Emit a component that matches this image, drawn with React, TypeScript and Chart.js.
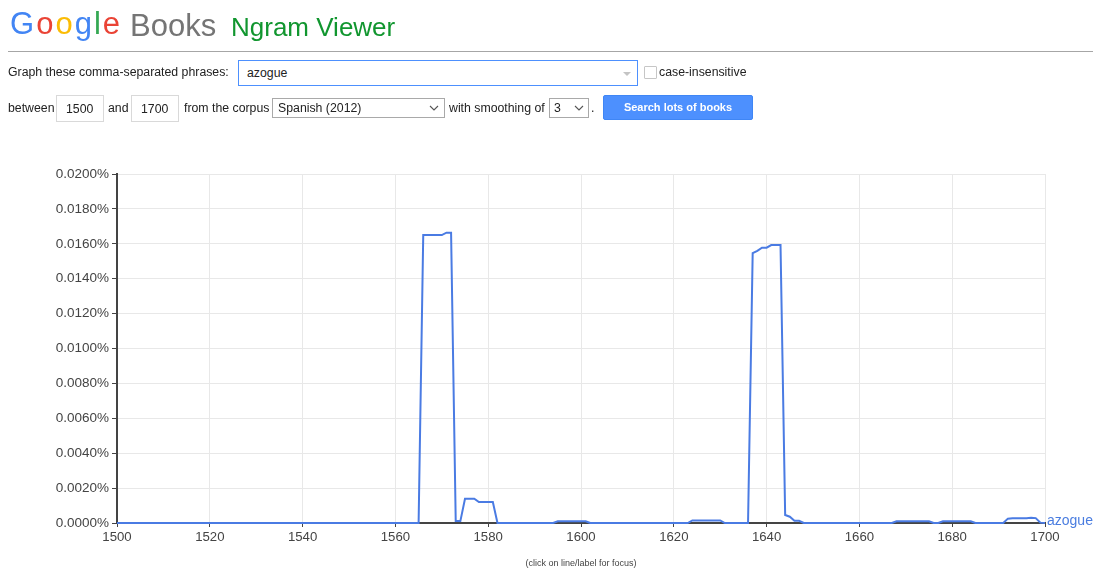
import React, { useEffect, useRef } from "react";
import { Chart, registerables } from "chart.js";

Chart.register(...registerables);

const FONT = "'Liberation Sans', Arial, sans-serif";

const firstYear = 1500;
const lastYear = 1700;
const phrase = "azogue";

// Yearly share of "azogue" in the corpus, in percent (1500 … 1700)
const azogueValues: number[] = [
  // 1500-1509
  0, 0, 0, 0, 0, 0, 0, 0, 0, 0,
  // 1510-1519
  0, 0, 0, 0, 0, 0, 0, 0, 0, 0,
  // 1520-1529
  0, 0, 0, 0, 0, 0, 0, 0, 0, 0,
  // 1530-1539
  0, 0, 0, 0, 0, 0, 0, 0, 0, 0,
  // 1540-1549
  0, 0, 0, 0, 0, 0, 0, 0, 0, 0,
  // 1550-1559
  0, 0, 0, 0, 0, 0, 0, 0, 0, 0,
  // 1560-1569
  0, 0, 0, 0, 0, 0, 0.0165, 0.0165, 0.0165, 0.0165,
  // 1570-1579
  0.0165, 0.01664, 0.01664, 0.00011, 0.00011, 0.00139, 0.00139, 0.00139, 0.0012, 0.0012,
  // 1580-1589
  0.0012, 0.0012, 0, 0, 0, 0, 0, 0, 0, 0,
  // 1590-1599
  0, 0, 0, 0, 0, 0.0001, 0.0001, 0.0001, 0.0001, 0.0001,
  // 1600-1609
  0.0001, 0.0001, 0, 0, 0, 0, 0, 0, 0, 0,
  // 1610-1619
  0, 0, 0, 0, 0, 0, 0, 0, 0, 0,
  // 1620-1629
  0, 0, 0, 0, 0.00015, 0.00015, 0.00015, 0.00015, 0.00015, 0.00015,
  // 1630-1639
  0.00015, 0, 0, 0, 0, 0, 0, 0.01546, 0.0156, 0.01578,
  // 1640-1649
  0.01578, 0.01593, 0.01593, 0.01593, 0.00046, 0.00036, 0.00013, 0.00013, 0, 0,
  // 1650-1659
  0, 0, 0, 0, 0, 0, 0, 0, 0, 0,
  // 1660-1669
  0, 0, 0, 0, 0, 0, 0, 0, 0.0001, 0.0001,
  // 1670-1679
  0.0001, 0.0001, 0.0001, 0.0001, 0.0001, 0.0001, 0, 0, 0.0001, 0.0001,
  // 1680-1689
  0.0001, 0.0001, 0.0001, 0.0001, 0.0001, 0, 0, 0, 0, 0,
  // 1690-1699
  0, 0, 0.00025, 0.00027, 0.00027, 0.00027, 0.00027, 0.0003, 0.00028, 0.00002,
  // 1700
  0,
];

const yMin = 0;
const yMax = 0.02;
const yStep = 0.002;
const xStep = 20;

const LINE_COLOR = "#4a7be3";
const UI_SIZE = 12.3;

const txt = (left: number, top: number, extra: React.CSSProperties = {}): React.CSSProperties => ({
  position: "absolute",
  left,
  top,
  fontFamily: FONT,
  fontSize: UI_SIZE,
  lineHeight: "16px",
  color: "#222",
  whiteSpace: "nowrap",
  zIndex: 2,
  ...extra,
});

const Chevron = ({ left, top }: { left: number; top: number }) => (
  <svg
    width={10}
    height={6}
    style={{ position: "absolute", left, top }}
    viewBox="0 0 10 6"
  >
    <polyline points="1,1 5,5 9,1" fill="none" stroke="#555" strokeWidth={1.1} />
  </svg>
);

export default function App() {
  const canvasRef = useRef<HTMLCanvasElement | null>(null);

  useEffect(() => {
    const canvas = canvasRef.current;
    if (!canvas) return;
    const points = azogueValues.map((v, i) => ({ x: firstYear + i, y: v }));
    const chart = new Chart(canvas, {
      type: "line",
      data: {
        datasets: [
          {
            label: phrase,
            data: points,
            borderColor: LINE_COLOR,
            backgroundColor: LINE_COLOR,
            borderWidth: 2,
            pointRadius: 0,
            tension: 0,
            fill: false,
            clip: 6,
          },
        ],
      },
      options: {
        responsive: false,
        animation: false,
        events: [],
        layout: { padding: { left: 0, top: 174, right: 49, bottom: 25 } },
        plugins: {
          legend: { display: false },
          tooltip: { enabled: false },
        },
        scales: {
          x: {
            type: "linear",
            min: firstYear,
            max: lastYear,
            ticks: {
              stepSize: xStep,
              color: "#444",
              font: { family: FONT, size: 13.2 },
              padding: 2,
              maxRotation: 0,
              autoSkip: false,
              callback: (v: any) => String(v),
            },
            grid: { color: "#e8e8e8", tickColor: "#444", tickLength: 4, lineWidth: 1 },
            border: { color: "#444", width: 2 },
            afterFit: (s: any) => {
              s.height = 20;
            },
          },
          y: {
            min: yMin,
            max: yMax,
            ticks: {
              stepSize: yStep,
              color: "#444",
              font: { family: FONT, size: 13.5 },
              padding: 3,
              callback: (v: any) => Number(v).toFixed(4) + "%",
            },
            grid: { color: "#e8e8e8", tickColor: "#444", tickLength: 5, lineWidth: 1 },
            border: { color: "#444", width: 2 },
            afterFit: (s: any) => {
              s.width = 117;
            },
          },
        },
      },
    });
    return () => chart.destroy();
  }, []);

  const googleLetters: [string, string][] = [
    ["G", "#4285F4"],
    ["o", "#EA4335"],
    ["o", "#FBBC05"],
    ["g", "#4285F4"],
    ["l", "#34A853"],
    ["e", "#EA4335"],
  ];

  return (
    <div>
      <canvas
        ref={canvasRef}
        width={1094}
        height={568}
        style={{ position: "absolute", left: 0, top: 0, width: 1094, height: 568, zIndex: 1 }}
      />

      {/* Logo */}
      <div style={txt(10, 8, { fontSize: 31, lineHeight: "31px", letterSpacing: "2px" })}>
        {googleLetters.map(([c, col], i) => (
          <span key={i} style={{ color: col }}>
            {c}
          </span>
        ))}
      </div>
      <div style={txt(130, 10, { fontSize: 31, lineHeight: "31px", color: "#757575" })}>Books</div>
      <div style={txt(231, 14, { fontSize: 26, lineHeight: "26px", color: "#11962f" })}>Ngram Viewer</div>

      <div
        style={{ position: "absolute", left: 8, top: 51, width: 1085, height: 1, background: "#a6a6a6", zIndex: 2 }}
      />

      {/* Row 1 */}
      <div style={txt(8, 64)}>Graph these comma-separated phrases:</div>
      <div
        style={{
          position: "absolute",
          left: 238,
          top: 60,
          width: 400,
          height: 26,
          boxSizing: "border-box",
          border: "1px solid #4d90fe",
          background: "#fff",
          zIndex: 2,
        }}
      >
        <div style={txt(8, 4)}>{phrase}</div>
        <div
          style={{
            position: "absolute",
            left: 384,
            top: 11,
            width: 0,
            height: 0,
            borderLeft: "4px solid transparent",
            borderRight: "4px solid transparent",
            borderTop: "4px solid #c4c4c4",
          }}
        />
      </div>
      <div
        style={{
          position: "absolute",
          left: 644,
          top: 66,
          width: 13,
          height: 13,
          boxSizing: "border-box",
          border: "1px solid #c6c6c6",
          borderRadius: 1,
          background: "#fff",
          zIndex: 2,
        }}
      />
      <div style={txt(659, 64)}>case-insensitive</div>

      {/* Row 2 */}
      <div style={txt(8, 100)}>between</div>
      <div
        style={{
          position: "absolute",
          left: 56,
          top: 95,
          width: 48,
          height: 27,
          boxSizing: "border-box",
          border: "1px solid #d9d9d9",
          zIndex: 2,
        }}
      >
        <div style={txt(9, 5)}>1500</div>
      </div>
      <div style={txt(108, 100)}>and</div>
      <div
        style={{
          position: "absolute",
          left: 131,
          top: 95,
          width: 48,
          height: 27,
          boxSizing: "border-box",
          border: "1px solid #d9d9d9",
          zIndex: 2,
        }}
      >
        <div style={txt(9, 5)}>1700</div>
      </div>
      <div style={txt(184, 100)}>from the corpus</div>
      <div
        style={{
          position: "absolute",
          left: 272,
          top: 98,
          width: 173,
          height: 20,
          boxSizing: "border-box",
          border: "1px solid #a9a9a9",
          background: "#fff",
          zIndex: 2,
        }}
      >
        <div style={txt(5, 1)}>Spanish (2012)</div>
        <Chevron left={156} top={6} />
      </div>
      <div style={txt(449, 100)}>with smoothing of</div>
      <div
        style={{
          position: "absolute",
          left: 549,
          top: 98,
          width: 40,
          height: 20,
          boxSizing: "border-box",
          border: "1px solid #a9a9a9",
          background: "#fff",
          zIndex: 2,
        }}
      >
        <div style={txt(4, 1)}>3</div>
        <Chevron left={24} top={6} />
      </div>
      <div style={txt(591, 100)}>.</div>
      <div
        style={{
          position: "absolute",
          left: 603,
          top: 95,
          width: 150,
          height: 25,
          boxSizing: "border-box",
          border: "1px solid #3f86f5",
          borderRadius: 2,
          background: "#4d90fe",
          color: "#fff",
          fontFamily: FONT,
          fontSize: 11,
          fontWeight: "bold",
          lineHeight: "23px",
          textAlign: "center",
          zIndex: 2,
        }}
      >
        Search lots of books
      </div>

      {/* Series label at the line end */}
      <div style={txt(1047, 512, { fontSize: 14, color: "#4a7de0" })}>{phrase}</div>

      {/* Footnote */}
      <div style={txt(481, 555, { width: 200, textAlign: "center", fontSize: 9, color: "#444" })}>
        (click on line/label for focus)
      </div>
    </div>
  );
}
